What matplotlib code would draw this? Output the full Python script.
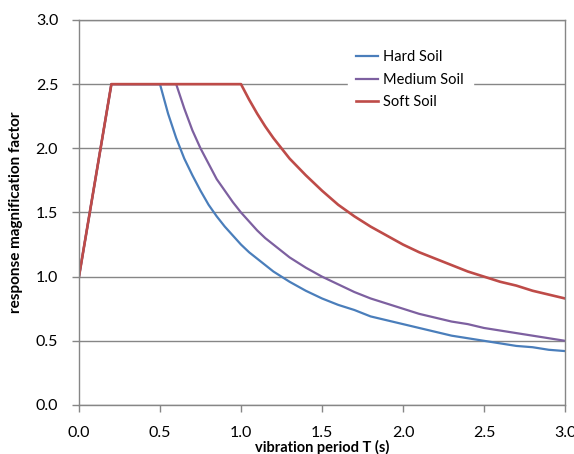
import matplotlib
matplotlib.use("Agg")
import matplotlib.pyplot as plt

# vibration period T (s) and response magnification factor
hard_T = [0.0, 0.2, 0.5, 0.55, 0.6, 0.65, 0.7, 0.75, 0.8, 0.85, 0.9, 0.95, 1.0,
          1.05, 1.1, 1.15, 1.2, 1.3, 1.4, 1.5, 1.6, 1.7, 1.8, 1.9, 2.0, 2.1,
          2.2, 2.3, 2.4, 2.5, 2.6, 2.7, 2.8, 2.9, 3.0]
hard_soil = [1.0, 2.5, 2.5, 2.27, 2.08, 1.92, 1.79, 1.67, 1.56, 1.47, 1.39, 1.32, 1.25,
             1.19, 1.14, 1.09, 1.04, 0.96, 0.89, 0.83, 0.78, 0.74, 0.69, 0.66, 0.63, 0.60,
             0.57, 0.54, 0.52, 0.50, 0.48, 0.46, 0.45, 0.43, 0.42]

medium_T = [0.0, 0.2, 0.6, 0.65, 0.7, 0.75, 0.8, 0.85, 0.9, 0.95, 1.0, 1.05, 1.1,
            1.15, 1.2, 1.3, 1.4, 1.5, 1.6, 1.7, 1.8, 1.9, 2.0, 2.1, 2.2, 2.3,
            2.4, 2.5, 2.6, 2.7, 2.8, 2.9, 3.0]
medium_soil = [1.0, 2.5, 2.5, 2.31, 2.14, 2.0, 1.88, 1.76, 1.67, 1.58, 1.5, 1.43, 1.36,
               1.30, 1.25, 1.15, 1.07, 1.0, 0.94, 0.88, 0.83, 0.79, 0.75, 0.71, 0.68, 0.65,
               0.63, 0.60, 0.58, 0.56, 0.54, 0.52, 0.50]

soft_T = [0.0, 0.2, 1.0, 1.05, 1.1, 1.15, 1.2, 1.3, 1.4, 1.5, 1.6, 1.7, 1.8,
          1.9, 2.0, 2.1, 2.2, 2.3, 2.4, 2.5, 2.6, 2.7, 2.8, 2.9, 3.0]
soft_soil = [1.0, 2.5, 2.5, 2.38, 2.27, 2.17, 2.08, 1.92, 1.79, 1.67, 1.56, 1.47, 1.39,
             1.32, 1.25, 1.19, 1.14, 1.09, 1.04, 1.0, 0.96, 0.93, 0.89, 0.86, 0.83]

ticks = [0.0, 0.5, 1.0, 1.5, 2.0, 2.5, 3.0]

plt.rcParams["font.family"] = ["Lato", "DejaVu Sans"]
grey = "#868686"

fig = plt.figure(figsize=(5.74, 4.54), dpi=100)
ax = fig.add_axes([0.1376, 0.108, 0.8467, 0.848])

ax.plot(hard_T, hard_soil, color="#4a7ebb", lw=1.6, label="Hard Soil")
ax.plot(medium_T, medium_soil, color="#7d60a0", lw=1.6, label="Medium Soil")
ax.plot(soft_T, soft_soil, color="#be4b48", lw=1.9, label="Soft Soil")

ax.set_xlim(0, 3)
ax.set_ylim(0, 3)
ax.set_xticks(ticks)
ax.set_yticks(ticks)
ax.set_xticklabels([f"{t:.1f}" for t in ticks])
ax.set_yticklabels([f"{t:.1f}" for t in ticks])
ax.yaxis.grid(True, color=grey, lw=1)
ax.set_axisbelow(True)
for s in ax.spines.values():
    s.set_color(grey)
    s.set_linewidth(1)
ax.tick_params(axis="both", colors=grey, labelcolor="black", labelsize=11.5,
               length=5, width=1)
ax.tick_params(axis="x", pad=10)
ax.tick_params(axis="y", pad=10)

ax.set_xlabel("vibration period T (s)", fontsize=10.5, fontweight="bold", labelpad=0)
ax.set_ylabel("response magnification factor", fontsize=11, fontweight="bold", labelpad=9)

leg = ax.legend(loc="upper left", bbox_to_anchor=(0.553, 0.945), frameon=True,
                fontsize=10.5, handlelength=1.5, handletextpad=0.35, labelspacing=0.6,
                borderpad=0.6, borderaxespad=0, fancybox=False)
leg.get_frame().set_edgecolor("white")
leg.get_frame().set_facecolor("white")
leg.get_frame().set_alpha(1)

fig.savefig("out.png", dpi=100)
